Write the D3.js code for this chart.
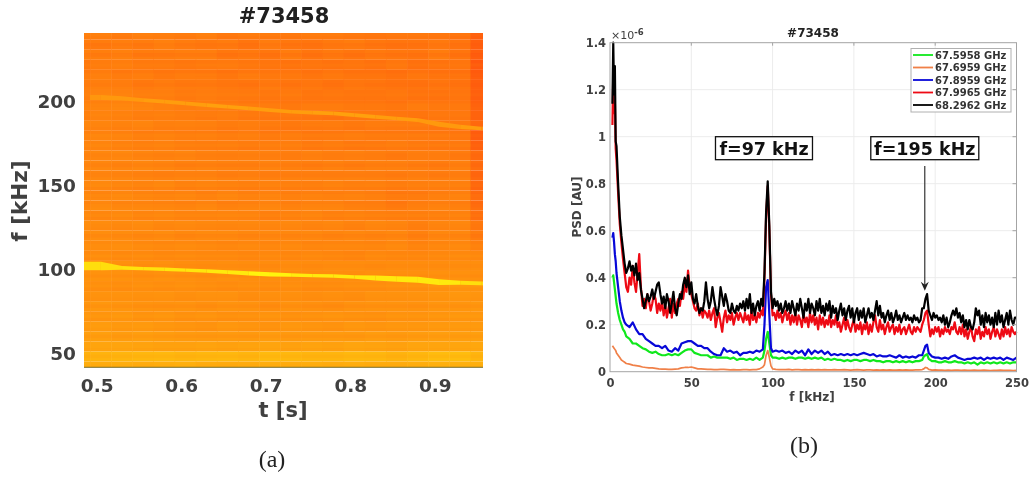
<!DOCTYPE html>
<html>
<head>
<meta charset="utf-8">
<script src="https://cdn.jsdelivr.net/npm/d3@7"></script>
<style>
html, body { margin:0; padding:0; background:#fff; }
svg { display:block; filter:blur(0.55px); }
text { font-family:"DejaVu Sans", sans-serif; }
</style>
</head>
<body>
<div id="chart"></div>
<script>
// ---- spectrogram data (a) ----
const timeBins = [.48,.505,.53,.555,.58,.605,.63,.655,.68,.705,.73,.755,.78,.805,.83,.855,.88,.905,.93,.955];
const freqBins = [240,234,228,222,216,210,204,198,192,186,180,174,168,162,156,150,144,138,132,126,120,114,108,102,96,90,84,78,72,66,60,54,48,42];
const power = [
[30,30,28,30,29,28,30,26,27,27,26,28,27,26,25,26,26,25,24,12],
[28,27,29,27,30,28,26,27,24,28,25,24,26,27,25,23,24,26,24,12],
[30,29,30,27,28,29,29,25,26,24,27,23,26,23,26,25,24,27,23,11],
[27,29,30,28,28,26,27,28,26,25,24,25,24,25,23,26,22,24,25,9],
[29,30,28,29,26,28,27,25,27,26,26,24,26,24,24,22,25,23,23,10],
[30,31,30,27,29,27,28,26,25,27,25,26,24,26,25,24,23,25,24,12],
[31,33,32,30,30,28,29,28,27,26,27,25,26,25,25,26,24,24,25,13],
[33,33,34,33,31,29,30,29,27,28,26,27,27,26,26,25,27,26,26,14],
[32,34,33,31,32,30,29,30,28,27,28,26,25,27,27,26,25,27,27,15],
[34,33,32,33,30,31,30,28,29,27,26,27,28,26,28,27,27,26,26,16],
[33,34,33,31,32,30,31,29,30,28,29,27,28,29,28,28,27,27,26,11],
[34,35,33,32,33,31,30,31,29,30,30,28,29,27,28,29,28,27,28,14],
[33,34,35,33,32,33,31,30,31,30,29,31,29,30,29,27,29,29,27,18],
[35,34,33,34,33,31,32,31,30,32,30,29,31,29,30,30,29,28,30,19],
[34,35,34,33,32,33,33,31,32,30,31,31,30,31,30,29,30,29,30,17],
[35,36,34,33,35,32,33,32,31,32,31,30,32,30,31,29,30,31,31,17],
[36,35,36,34,33,34,32,34,32,33,31,32,31,32,30,27,28,30,32,19],
[35,37,35,35,34,33,35,32,33,34,32,33,33,31,30,27,30,32,31,20],
[37,36,37,35,36,34,34,35,34,32,33,34,32,33,32,31,31,32,33,22],
[38,37,36,37,35,36,35,34,35,34,35,33,34,32,34,33,30,33,34,26],
[37,38,37,36,37,35,36,36,34,35,34,35,33,34,33,34,31,34,34,28],
[39,38,39,37,36,37,36,35,36,35,36,34,35,35,34,36,33,35,36,32],
[39,40,38,39,37,38,37,37,36,37,36,37,36,35,37,36,36,37,38,37],
[42,41,40,39,40,39,38,39,38,37,38,37,38,38,37,38,38,38,39,39],
[41,42,41,40,41,40,39,40,39,39,38,39,39,39,40,40,40,41,41,40],
[42,41,40,41,40,41,40,39,40,39,40,38,39,40,40,41,41,43,44,44],
[41,42,42,41,42,40,41,41,39,40,40,39,40,39,41,41,42,43,44,43],
[43,44,43,42,41,42,40,42,41,39,41,40,39,41,42,42,41,43,43,44],
[45,44,45,43,44,42,43,41,42,43,41,42,43,42,41,43,43,44,45,45],
[46,47,45,46,44,43,42,44,43,42,44,43,42,44,43,44,44,45,46,46],
[48,49,47,48,47,46,45,46,45,47,45,46,46,45,47,46,47,48,48,49],
[51,52,52,51,50,50,51,50,51,52,50,51,50,52,51,50,52,52,53,54],
[60,61,62,63,64,62,63,64,62,65,64,62,62,64,63,61,63,66,67,62],
[58,57,58,57,58,59,57,56,57,58,57,58,57,58,57,57,58,60,60,59]
];
// fine horizontal streaks, one value per 2 kHz from 240 down
const streakValues = [2,-1,1,-2,0,2,-2,1,-1,2,0,-2,1,2,-1,-2,1,0,2,-1,
-2,1,2,-1,0,-2,2,1,-1,-2,2,0,-1,1,-2,2,-1,0,1,-2,
2,-1,-2,1,0,2,-2,-1,2,1,-2,0,2,-1,1,-2,2,0,-1,2,
-2,1,-1,2,0,-2,1,-2,2,-1,1,0,-2,2,-1,1,-2,2,0,-1,
2,-2,1,-1,2,-2,0,1,-1,2,-2,1,0,2,-1,1,-2,1,2,-1];
const mode1Times = [.48,.505,.53,.555,.58,.605,.63,.655,.68,.705,.73,.755,.78,.805,.83,.855,.88,.905,.93,.955,.96];
const mode1Freq  = [102,102,100.8,100.4,100,99.5,99,98.3,97.6,97,96.6,96.2,96,95.4,94.8,94.2,93.8,92.4,92,91.6,91.5];
const mode1Width = [5,5,2.2,2,2,2,2,2.2,2.6,2.6,2.2,2,2,2,3,3.4,3.6,3.4,2.4,2.2,2.2];
const mode1Power = [86,86,88,88,90,90,92,92,98,98,94,92,92,92,92,92,92,92,86,84,84];
const mode2Times = [.492,.505,.53,.555,.58,.605,.63,.655,.68,.705,.73,.755,.78,.805,.83,.855,.88,.905,.93,.955,.96];
const mode2Freq  = [202.5,202.5,202,201,200,199,198,197,196,195,194,193.5,193,192,191,190,189,186.5,185,184,184];
const mode2Width = [3,3,2.6,2.2,2.2,2.2,2.2,2.2,2.2,2.2,2.2,2.2,2.2,2.2,2.2,2.2,2.2,3,2.6,2.2,2.2];
const mode2Power = [44,46,46,48,48,48,50,50,48,48,48,50,50,50,48,48,46,46,48,46,46];

// ---- PSD data (b), in units of 1e-6 ----
const freqs = [1.5,2,2.5,3,3.5,4,5,6,7,8,9,10,
12,14,16,18,20,22,24,26,28,30,32,34,36,38,40,42,44,46,48,50,
52,54,56,58,60,62,64,66,68,70,72,74,76,78,80,82,84,86,88,90,92,94,
95,96,97,98,99,
100,102,104,106,108,110,112,114,116,118,120,122,124,126,128,130,132,134,136,138,140,
142,144,146,148,150,152,154,156,158,160,162,164,166,168,170,172,174,176,178,180,182,184,186,188,190,192,
193,194,195,196,
198,200,202,204,206,208,210,212,214,216,218,220,222,224,226,228,230,232,234,236,238,240,242,244,246,248,250];
const psdGreen = [.4,.41,.38,.35,.32,.29,.25,.22,.2,.18,.17,.15,
.14,.12,.12,.11,.1,.095,.085,.08,.085,.075,.07,.07,.075,.07,.075,.07,.08,.09,.095,.095,
.08,.075,.07,.07,.07,.06,.065,.06,.06,.06,.06,.055,.06,.05,.055,.055,.05,.055,.05,.06,.05,.06,
.09,.14,.17,.12,.07,
.06,.06,.055,.06,.055,.06,.06,.055,.06,.06,.055,.06,.055,.06,.055,.06,.05,.055,.05,.055,.05,
.05,.045,.05,.045,.05,.05,.045,.05,.05,.045,.05,.045,.045,.04,.045,.045,.04,.045,.04,.045,.04,.045,.04,.045,.045,.05,
.065,.07,.075,.055,
.045,.045,.04,.04,.045,.04,.04,.045,.04,.04,.035,.04,.035,.04,.03,.04,.035,.04,.035,.04,.035,.04,.035,.04,.035,.04,.04];
const psdOrange = [.11,.105,.1,.095,.09,.08,.07,.06,.05,.045,.04,.035,
.032,.028,.026,.024,.02,.018,.016,.016,.014,.012,.011,.011,.01,.01,.011,.012,.016,.018,.018,.02,
.016,.012,.012,.011,.01,.01,.009,.009,.01,.01,.009,.008,.009,.008,.008,.009,.009,.008,.009,.009,.012,.02,
.03,.07,.09,.06,.025,
.012,.01,.009,.009,.009,.01,.008,.009,.009,.008,.009,.008,.009,.008,.009,.008,.009,.008,.008,.009,.008,
.008,.009,.008,.007,.008,.009,.008,.007,.008,.008,.007,.008,.007,.008,.007,.008,.007,.007,.008,.007,.008,.007,.007,.008,.008,.009,
.012,.018,.016,.01,
.007,.008,.007,.007,.006,.007,.006,.007,.007,.006,.007,.006,.006,.007,.006,.006,.007,.006,.005,.006,.006,.007,.006,.006,.006,.005,.006];
const psdBlue = [.57,.59,.55,.5,.47,.42,.36,.3,.26,.23,.21,.2,
.19,.21,.18,.16,.16,.14,.13,.12,.11,.11,.1,.11,.09,.085,.1,.09,.12,.125,.13,.13,
.12,.11,.11,.1,.1,.085,.075,.07,.07,.1,.085,.09,.08,.085,.07,.08,.08,.085,.08,.09,.085,.095,
.2,.36,.39,.24,.1,
.085,.09,.085,.09,.08,.085,.075,.09,.08,.09,.07,.095,.075,.09,.08,.09,.075,.085,.07,.075,.07,
.075,.07,.075,.07,.075,.07,.075,.08,.075,.07,.075,.065,.07,.065,.065,.07,.065,.06,.07,.06,.065,.06,.065,.06,.07,.07,
.09,.11,.115,.08,
.065,.06,.06,.055,.06,.055,.065,.07,.06,.055,.05,.055,.055,.06,.055,.06,.05,.06,.055,.06,.055,.06,.05,.06,.055,.05,.06];

// red and black are noisier, so they are read at 1 kHz above 10 kHz
const headFreqs = [1.5,2,2.5,3,3.5,4,5,6,7,8,9,10];
const fineFreqs = headFreqs.concat(d3.range(11,251));
const psdRed = [1.05,1.27,1.1,1.15,.95,.9,.76,.63,.55,.48,.42,.36,
.34,.4,.37,.45,.38,.34,.42,.5,.36,.28,
.31,.27,.33,.3,.26,.29,.33,.31,.25,.29,
.26,.3,.24,.28,.23,.27,.31,.23,.29,.25,
.29,.31,.28,.34,.31,.37,.34,.43,.36,.33,
.3,.27,.26,.29,.24,.27,.23,.26,.25,.23,
.26,.22,.25,.27,.19,.23,.25,.21,.17,.23,
.26,.21,.24,.22,.25,.2,.23,.25,.22,.25,
.23,.21,.25,.22,.24,.2,.26,.22,.24,.21,
.25,.23,.26,.24,.4,.66,.79,.6,.33,.24,
.25,.22,.26,.23,.25,.21,.24,.26,.22,.25,
.2,.24,.21,.25,.2,.24,.22,.19,.25,.21,
.23,.19,.25,.21,.24,.2,.23,.18,.24,.2,
.23,.19,.22,.2,.24,.19,.22,.2,.24,.19,
.21,.17,.2,.23,.18,.22,.19,.17,.2,.22,
.17,.2,.18,.21,.16,.2,.18,.21,.16,.2,
.17,.21,.24,.19,.17,.22,.18,.2,.16,.19,
.21,.17,.19,.2,.16,.19,.17,.2,.16,.18,
.19,.16,.18,.2,.17,.16,.19,.17,.19,.18,
.17,.2,.22,.25,.26,.2,.15,.18,.16,.19,
.17,.19,.15,.18,.16,.19,.17,.18,.16,.19,
.18,.21,.17,.16,.19,.16,.2,.15,.18,.14,
.17,.19,.15,.13,.18,.16,.19,.14,.17,.15,
.19,.16,.18,.14,.17,.19,.15,.18,.16,.14,
.18,.15,.19,.16,.18,.15,.19,.17,.16,.17];
const psdBlack = [1.14,1.4,1.18,1.3,.98,.96,.8,.66,.58,.52,.46,.42,
.44,.47,.43,.45,.41,.46,.39,.42,.35,.31,
.27,.3,.33,.3,.32,.35,.31,.34,.37,.38,
.33,.29,.32,.27,.33,.3,.25,.29,.34,.27,
.24,.29,.33,.31,.37,.4,.36,.41,.33,.38,
.31,.29,.33,.28,.25,.27,.26,.3,.38,.31,
.27,.3,.36,.31,.27,.24,.28,.36,.32,.28,
.33,.3,.26,.25,.29,.26,.25,.28,.26,.29,
.27,.3,.26,.31,.27,.33,.25,.29,.24,.28,
.3,.26,.31,.28,.42,.68,.81,.62,.34,.27,
.31,.28,.3,.26,.29,.25,.27,.3,.26,.29,
.25,.3,.27,.24,.29,.26,.31,.27,.23,.29,
.26,.31,.25,.29,.27,.24,.3,.26,.31,.25,
.28,.24,.29,.26,.3,.23,.28,.25,.27,.22,
.26,.29,.24,.27,.22,.26,.28,.23,.27,.21,
.25,.27,.22,.26,.23,.27,.21,.24,.27,.23,
.25,.22,.26,.3,.24,.28,.23,.25,.21,.24,
.26,.22,.25,.21,.23,.26,.22,.24,.21,.23,
.25,.22,.24,.22,.23,.21,.24,.22,.23,.21,
.22,.27,.27,.31,.33,.26,.24,.22,.25,.23,
.24,.22,.23,.21,.24,.2,.23,.19,.21,.24,
.26,.24,.27,.23,.25,.21,.24,.19,.22,.18,
.22,.19,.18,.21,.27,.24,.26,.2,.24,.19,
.25,.21,.24,.2,.23,.19,.25,.2,.26,.21,
.24,.19,.22,.25,.2,.26,.22,.2,.23,.23];

const legendLabels = ["67.5958 GHz","67.6959 GHz","67.8959 GHz","67.9965 GHz","68.2962 GHz"];
const seriesColors = ["#10e81c","#f08048","#0808d8","#ee0a14","#000000"];
const seriesValues = [psdGreen,psdOrange,psdBlue,psdRed,psdBlack];
const seriesFreqs = [freqs,freqs,freqs,fineFreqs,fineFreqs];

const tTicks = [.5,.6,.7,.8,.9];
const fTicks = [50,100,150,200];
const psdXTicks = [0,50,100,150,200,250];
const psdYTicks = [0,.2,.4,.6,.8,1,1.2,1.4];

const svg = d3.select("#chart").append("svg").attr("width",1030).attr("height",477);
const axisInk = "#404040";

// ========== (a) spectrogram ==========
const xA = d3.scaleLinear().domain([.485,.957]).range([84,483]);
const yA = d3.scaleLinear().domain([41.7,241]).range([367,33]);
const heat = d3.scaleLinear().domain([0,105]).range(["#ff4a10","#ffff10"]);

svg.append("defs").append("clipPath").attr("id","clipA")
    .append("rect").attr("x",84).attr("y",33).attr("width",399).attr("height",334);
svg.select("defs").append("filter").attr("id","soft")
    .append("feGaussianBlur").attr("stdDeviation","0.7 0.5");

const gA = svg.append("g").attr("clip-path","url(#clipA)").append("g").attr("filter","url(#soft)");
const halfT = .0128, halfF = 3;

power.forEach((row,r)=>{
    gA.selectAll(null).data(row).join("rect")
        .attr("x",(d,c)=>xA(timeBins[c]-halfT))
        .attr("width",(d,c)=>xA(timeBins[c]+halfT)-xA(timeBins[c]-halfT))
        .attr("y",yA(freqBins[r]+halfF))
        .attr("height",yA(freqBins[r]-halfF)-yA(freqBins[r]+halfF))
        .attr("fill",d=>heat(d));
});

// streaks
gA.selectAll(".streak").data(streakValues).join("rect")
    .attr("class","streak")
    .attr("x",84).attr("width",399)
    .attr("y",(d,i)=>yA(240-i*2+1))
    .attr("height",(d,i)=>yA(240-i*2-1)-yA(240-i*2+1))
    .attr("fill",d=>d>0?"#ffc000":"#ff5000")
    .attr("opacity",d=>Math.abs(d)*.022);

// the two modes, one small band per time step
[[mode2Times,mode2Freq,mode2Width,mode2Power],[mode1Times,mode1Freq,mode1Width,mode1Power]].forEach(([tm,fr,wd,pw])=>{
    const band = d3.area()
        .x(c=>xA(tm[c]))
        .y0(c=>yA(fr[c]-wd[c]/2))
        .y1(c=>yA(fr[c]+wd[c]/2));
    gA.selectAll(null).data(d3.pairs(d3.range(tm.length))).join("path")
        .attr("d",band)
        .attr("fill",d=>heat(pw[d[0]]));
});

svg.append("line").attr("x1",84).attr("x2",483).attr("y1",367.3).attr("y2",367.3)
    .attr("stroke","#7a6a20").attr("stroke-width",1);

const axA = svg.append("g").attr("transform","translate(0,367)")
    .call(d3.axisBottom(xA).tickValues(tTicks).tickSize(0).tickPadding(12).tickFormat(d3.format(".1f")));
const ayA = svg.append("g").attr("transform","translate(84,0)")
    .call(d3.axisLeft(yA).tickValues(fTicks).tickSize(0).tickPadding(8));
[axA,ayA].forEach(a=>{
    a.select(".domain").remove();
    a.selectAll("text").style("font-family",'"DejaVu Sans"').style("font-size","18.5px")
        .style("font-weight","bold").style("fill",axisInk);
});

svg.append("text").attr("x",284).attr("y",23).attr("text-anchor","middle")
    .style("font-size","21px").style("font-weight","bold").style("fill","#202020").text("#73458");
svg.append("text").attr("x",283).attr("y",417).attr("text-anchor","middle")
    .style("font-size","21px").style("font-weight","bold").style("fill",axisInk).text("t [s]");
svg.append("text").attr("transform","translate(27,201) rotate(-90)").attr("text-anchor","middle")
    .style("font-size","21.5px").style("font-weight","bold").style("fill",axisInk).text("f [kHz]");
svg.append("text").attr("x",272).attr("y",467).attr("text-anchor","middle")
    .style("font-family",'"Liberation Serif"').style("font-size","24px").style("fill","#222").text("(a)");

// ========== (b) PSD ==========
const xB = d3.scaleLinear().domain([0,250]).range([610,1016.5]);
const yB = d3.scaleLinear().domain([0,1.4]).range([371.7,42.7]);

svg.append("g").selectAll("line").data(psdXTicks.slice(1,-1)).join("line")
    .attr("x1",d=>xB(d)).attr("x2",d=>xB(d)).attr("y1",yB(0)).attr("y2",yB(1.4))
    .attr("stroke","#ececec");
svg.append("g").selectAll("line").data(psdYTicks.slice(1,-1)).join("line")
    .attr("x1",xB(0)).attr("x2",xB(250)).attr("y1",d=>yB(d)).attr("y2",d=>yB(d))
    .attr("stroke","#ececec");

svg.append("g").selectAll("path").data(seriesValues).join("path")
    .attr("d",(vals,s)=>d3.line().x((d,i)=>xB(seriesFreqs[s][i])).y(d=>yB(d))(vals))
    .attr("fill","none")
    .attr("stroke",(d,i)=>seriesColors[i])
    .attr("stroke-width",(d,i)=>i==1?1.7:2.2)
    .attr("stroke-linejoin","round");

svg.append("rect").attr("x",xB(0)).attr("y",yB(1.4)).attr("width",xB(250)-xB(0)).attr("height",yB(0)-yB(1.4))
    .attr("fill","none").attr("stroke","#a4a4a4");

const axB = svg.append("g").attr("transform",`translate(0,${yB(0)})`)
    .call(d3.axisBottom(xB).tickValues(psdXTicks).tickSize(0).tickPadding(7));
const ayB = svg.append("g").attr("transform",`translate(${xB(0)},0)`)
    .call(d3.axisLeft(yB).tickValues(psdYTicks).tickSize(0).tickPadding(4).tickFormat(d=>String(d)));
[axB,ayB].forEach(a=>{
    a.select(".domain").remove();
    a.selectAll("text").style("font-family",'"DejaVu Sans"').style("font-size","11.5px")
        .style("font-weight","bold").style("fill",axisInk);
});

// short ticks on the top and right edges
svg.append("g").selectAll("line").data(psdXTicks.slice(1,-1)).join("line")
    .attr("x1",d=>xB(d)).attr("x2",d=>xB(d)).attr("y1",yB(1.4)).attr("y2",yB(1.4)+3).attr("stroke","#a4a4a4");
svg.append("g").selectAll("line").data(psdYTicks.slice(1,-1)).join("line")
    .attr("x1",xB(250)-4).attr("x2",xB(250)).attr("y1",d=>yB(d)).attr("y2",d=>yB(d)).attr("stroke","#a4a4a4");

const expo = svg.append("text").attr("x",611).attr("y",39).style("fill",axisInk);
expo.append("tspan").style("font-size","11px").text("×10");
expo.append("tspan").attr("dy",-4).style("font-size","8.5px").style("font-weight","bold").text("-6");

svg.append("text").attr("x",813).attr("y",37).attr("text-anchor","middle")
    .style("font-size","12px").style("font-weight","bold").style("fill","#222").text("#73458");
svg.append("text").attr("x",812).attr("y",401).attr("text-anchor","middle")
    .style("font-size","12px").style("font-weight","bold").style("fill",axisInk).text("f [kHz]");
svg.append("text").attr("transform","translate(581,207) rotate(-90)").attr("text-anchor","middle")
    .style("font-size","12px").style("font-weight","bold").style("fill",axisInk).text("PSD [AU]");

// legend
svg.append("rect").attr("x",911).attr("y",48.5).attr("width",100).attr("height",63.5)
    .attr("fill","#fff").attr("stroke","#b0b0b0");
const leg = svg.append("g").selectAll("g").data(legendLabels).join("g")
    .attr("transform",(d,i)=>`translate(913,${55+i*12.5})`);
leg.append("line").attr("x2",20).attr("stroke",(d,i)=>seriesColors[i]).attr("stroke-width",1.8);
leg.append("text").attr("x",22).attr("y",3.8).text(d=>d)
    .style("font-size","10px").style("font-weight","bold").style("fill","#333");

// annotations
const notes = [{label:"f=97 kHz",f:94.7,w:97},{label:"f=195 kHz",f:193.6,w:108}];
const note = svg.append("g").selectAll("g").data(notes).join("g");
note.append("rect").attr("x",d=>xB(d.f)-d.w/2).attr("y",yB(1)).attr("width",d=>d.w).attr("height",23)
    .attr("fill","#fff").attr("stroke","#111").attr("stroke-width",1.3);
note.append("text").attr("x",d=>xB(d.f)).attr("y",yB(1)+18).attr("text-anchor","middle")
    .style("font-size","17.5px").style("font-weight","bold").style("fill","#111").text(d=>d.label);

const arrowF = 193.6, arrowTop = .875, arrowTip = .345;
svg.append("line").attr("x1",xB(arrowF)).attr("x2",xB(arrowF)).attr("y1",yB(arrowTop)).attr("y2",yB(arrowTip)-4)
    .attr("stroke","#222").attr("stroke-width",1.1);
svg.append("path")
    .attr("d",`M${xB(arrowF)-4},${yB(arrowTip)-9}L${xB(arrowF)},${yB(arrowTip)}L${xB(arrowF)+4},${yB(arrowTip)-9}L${xB(arrowF)},${yB(arrowTip)-6}Z`)
    .attr("fill","#222");

svg.append("text").attr("x",804).attr("y",453).attr("text-anchor","middle")
    .style("font-family",'"Liberation Serif"').style("font-size","24px").style("fill","#222").text("(b)");
</script>
</body>
</html>
